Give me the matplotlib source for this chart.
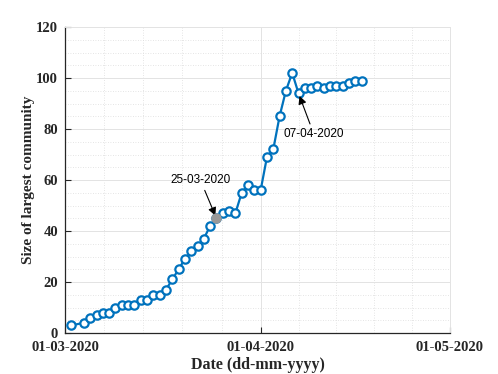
import matplotlib
matplotlib.use('Agg')
import matplotlib.pyplot as plt
import matplotlib.dates as mdates
import numpy as np
from datetime import datetime
from matplotlib.ticker import MultipleLocator, FixedLocator

# 数据
dates = ['2020-03-02', '2020-03-04', '2020-03-05', '2020-03-06', '2020-03-07', '2020-03-08',
         '2020-03-09', '2020-03-10', '2020-03-11', '2020-03-12', '2020-03-13', '2020-03-14',
         '2020-03-15', '2020-03-16', '2020-03-17', '2020-03-18', '2020-03-19', '2020-03-20',
         '2020-03-21', '2020-03-22', '2020-03-23', '2020-03-24', '2020-03-25', '2020-03-26',
         '2020-03-27', '2020-03-28', '2020-03-29', '2020-03-30', '2020-03-31', '2020-04-01',
         '2020-04-02', '2020-04-03', '2020-04-04', '2020-04-05', '2020-04-06', '2020-04-07',
         '2020-04-08', '2020-04-09', '2020-04-10', '2020-04-11', '2020-04-12', '2020-04-13',
         '2020-04-14', '2020-04-15', '2020-04-16', '2020-04-17']
sizes = [3, 4, 6, 7, 8, 8,
         10, 11, 11, 11, 13, 13,
         15, 15, 17, 21, 25, 29,
         32, 34, 37, 42, 45, 47,
         48, 47, 55, 58, 56, 56,
         69, 72, 85, 95, 102, 94,
         96, 96, 97, 96, 97, 97,
         97, 98, 99, 99]
tick_dates = ['2020-03-01', '2020-04-01', '2020-05-01']
tick_labels = ['01-03-2020', '01-04-2020', '01-05-2020']
highlight = ('2020-03-25', 45, '25-03-2020')
annot2 = ('2020-04-07', 94, '07-04-2020')

blue = '#0072BD'
dark = '#262626'

x = [datetime.fromisoformat(d) for d in dates]
ticks = [mdates.date2num(datetime.fromisoformat(d)) for d in tick_dates]

fig = plt.figure(figsize=(4.98, 3.74), dpi=100)
ax = fig.add_axes([0.1305, 0.1096, 0.7731, 0.8182])

ax.plot(x, sizes, '-o', color=blue, lw=1.6, ms=6, mew=1.6, mfc='white', mec=blue, zorder=3)

hx = datetime.fromisoformat(highlight[0])
ax.plot([hx], [highlight[1]], 'o', ms=6.5, mfc='#999999', mec='#999999', zorder=4)

ax.set_xlim(ticks[0], ticks[-1])
ax.set_ylim(0, 120)
ax.xaxis.set_major_locator(FixedLocator(ticks))
minor = []
for a, b in zip(ticks[:-1], ticks[1:]):
    minor.extend(np.linspace(a, b, 6)[1:-1])
ax.xaxis.set_minor_locator(FixedLocator(minor))
ax.set_xticklabels(tick_labels)
ax.yaxis.set_major_locator(MultipleLocator(20))
ax.yaxis.set_minor_locator(MultipleLocator(5))

ax.grid(True, which='major', color='#e3e3e3', lw=0.7, ls='-')
ax.grid(True, which='minor', color='#dcdcdc', lw=0.6, ls=(0, (1, 2)))
ax.set_axisbelow(True)

for s in ['top', 'right']:
    ax.spines[s].set_color('#e3e3e3')
    ax.spines[s].set_linewidth(0.7)
for s in ['left', 'bottom']:
    ax.spines[s].set_color(dark)
    ax.spines[s].set_linewidth(0.9)

ax.tick_params(which='major', direction='in', length=4, width=0.8, color=dark,
               top=False, right=False)
ax.tick_params(axis='x', which='major', pad=6)
ax.tick_params(axis='y', which='major', pad=5)
ax.tick_params(which='minor', length=0)
for lab in ax.get_xticklabels() + ax.get_yticklabels():
    lab.set_fontfamily('Liberation Serif')
    lab.set_fontweight('bold')
    lab.set_fontsize(10.5)
    lab.set_color(dark)

ax.set_xlabel('Date (dd-mm-yyyy)', fontfamily='Liberation Serif', fontweight='bold',
              fontsize=11.5, color=dark, labelpad=2)
ax.set_ylabel('Size of largest community', fontfamily='Liberation Serif', fontweight='bold',
              fontsize=11, color=dark, labelpad=1)

arrow = dict(arrowstyle='-|>', color='black', lw=0.8, mutation_scale=12, shrinkA=1, shrinkB=2)
ax.annotate(highlight[2], xy=(hx, highlight[1]), xytext=(-11.5, 23), textcoords='offset points',
            ha='center', va='bottom', fontsize=8.5, fontfamily='Liberation Sans', arrowprops=arrow)
ax2x = datetime.fromisoformat(annot2[0])
ax.annotate(annot2[2], xy=(ax2x, annot2[1]), xytext=(11, -25), textcoords='offset points',
            ha='center', va='top', fontsize=8.5, fontfamily='Liberation Sans', arrowprops=arrow)

fig.savefig('out.png', dpi=100)
